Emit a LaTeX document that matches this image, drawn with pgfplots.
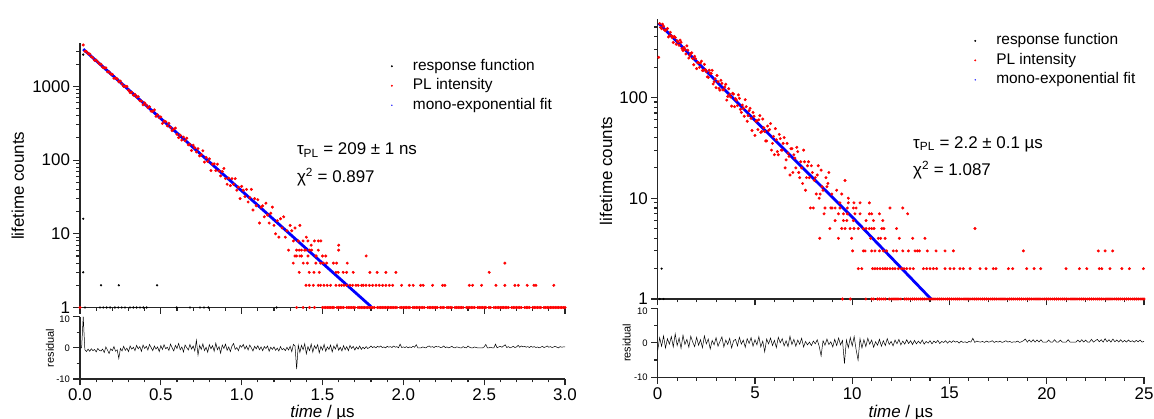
\documentclass[border=0pt]{standalone}
\usepackage{pgfplots}
\pgfplotsset{compat=1.18}
\usepackage{fontspec}
\setmainfont{Liberation Sans}
\definecolor{axcol}{gray}{0.15}
\pgfplotsset{
  base/.style={
    scale only axis,
    axis x line*=bottom, axis y line*=left,
    axis line style={line width=1.2bp, draw=axcol, -},
    tick style={line width=1.1bp, draw=axcol},
    tick align=outside,
    major tick length=6.5bp, minor tick length=3.5bp,
    /pgf/number format/assume math mode=true,
    clip=false,
    ticklabel style={font=\fontsize{17}{19}\selectfont},
  },
  resid/.style={
    ytick={-10,0}, yticklabels={-10,0}, minor ytick={-5,5},
    extra y ticks={10}, extra y tick labels={10},
    extra y tick style={yticklabel style={yshift=-2.5bp}},
    yticklabel style={font=\fontsize{9.5}{10}\selectfont},
    ylabel={residual},
    xlabel={\textit{time} / µs},
  },
  lgd/.style={
    legend cell align=left,
    legend style={draw=none, fill=none, inner sep=0pt, row sep=3bp,
      font=\fontsize{15.5}{17}\selectfont,
      nodes={inner xsep=1bp, inner ysep=1bp, text height=11bp, text depth=3.5bp}},
    legend image code/.code={\path[draw=none,fill=none] (0bp,0bp) (31bp,0bp); \draw[##1, mark size=0.8bp] plot coordinates {(11bp,0bp)};},
  },
  redpts/.style={only marks, mark=*, mark size=1.3bp, draw=red, fill=red, mark options={draw=red, fill=red}},
  blkpts/.style={only marks, mark=*, mark size=0.9bp, black, mark options={draw=black, fill=black}},
  fitln/.style={blue, line width=2.8bp, no marks},
  fitlgd/.style={legend image code/.code={\path[draw=none,fill=none] (0bp,0bp) (31bp,0bp); \fill[blue, draw=none] (11bp,0bp) circle (0.8bp);}},
}
\begin{document}
\begin{tikzpicture}
\path[use as bounding box] (0,0) rectangle (1154bp,419bp);

% ---------------- left main ----------------
\begin{axis}[base, lgd,
  at={(80bp,111.5bp)}, anchor=south west, width=485bp, height=264.5bp,
  xmin=0, xmax=3, ymode=log, ymin=1, ymax=3880,
  xtick={0,0.5,...,3}, minor x tick num=4, xticklabels={,,,,,,,},
  ytick={1,10,100,1000}, yticklabels={1,10,100,1000},
  minor ytick={2,3,4,5,6,7,8,9,20,30,40,50,60,70,80,90,200,300,400,500,600,700,800,900,2000,3000},
  ylabel={lifetime counts},
  ylabel style={font=\fontsize{17}{19}\selectfont, at={(axis description cs:-0.128,0.46)}, anchor=center},
  legend style={at={(axis description cs:0.620,0.944)}, anchor=north west},
]
\addplot[blkpts] coordinates {(0.02,2700)(0.02,16)(0.02,3)(0.13,2)(0.24,2)(0.477,2)
(0.031,1)(0.124,1)(0.144,1)(0.165,1)(0.186,1)(0.216,1)(0.237,1)(0.258,1)(0.278,1)(0.309,1)(0.33,1)(0.35,1)(0.371,1)(0.392,1)(0.412,1)(0.598,1)(0.68,1)(0.742,1)(0.767,1)(0.794,1)(1.216,1)};
\addlegendentry{response function}
\addplot[redpts] coordinates {(0.00,1)(0.02,3650)(0.03,2998)(0.04,2967)(0.05,2784)(0.06,2749)(0.07,2518)(0.08,2445)(0.09,2255)(0.10,2271)(0.11,2149)(0.12,2014)(0.13,2000)(0.14,1822)(0.15,1779)(0.16,1782)(0.17,1573)(0.18,1577)(0.19,1473)(0.20,1457)(0.21,1286)(0.22,1303)(0.23,1264)(0.24,1156)(0.25,1179)(0.26,1079)(0.27,1002)(0.28,1004)(0.29,1000)(0.30,885)(0.31,822)(0.32,834)(0.33,758)(0.34,776)(0.35,715)(0.36,728)(0.37,640)(0.38,632)(0.39,562)(0.40,597)(0.41,558)(0.42,514)(0.43,529)(0.44,460)(0.45,458)(0.46,480)(0.47,392)(0.48,412)(0.49,377)(0.50,385)(0.51,314)(0.52,338)(0.53,332)(0.54,291)(0.55,316)(0.56,277)(0.57,251)(0.58,263)(0.59,272)(0.60,224)(0.61,202)(0.62,217)(0.63,187)(0.64,205)(0.65,183)(0.66,198)(0.67,161)(0.68,163)(0.69,135)(0.70,159)(0.71,147)(0.72,129)(0.73,143)(0.74,114)(0.75,118)(0.76,134)(0.77,94)(0.78,109)(0.79,96)(0.80,104)(0.81,72)(0.82,88)(0.83,89)(0.84,72)(0.85,88)(0.86,71)(0.87,61)(0.88,70)(0.89,77)(0.90,56)(0.91,47)(0.92,57)(0.93,45)(0.94,56)(0.95,47)(0.96,56)(0.97,39)(0.98,43)(0.99,30)(1.00,44)(1.01,39)(1.02,32)(1.03,40)(1.04,27)(1.05,31)(1.06,40)(1.07,21)(1.08,30)(1.09,24)(1.10,29)(1.11,14)(1.12,23)(1.13,24)(1.14,17)(1.15,26)(1.16,18)(1.17,14)(1.18,19)(1.19,23)(1.20,13)(1.21,10)(1.22,15)(1.23,9)(1.24,16)(1.25,12)(1.26,17)(1.27,9)(1.28,11)(1.29,6)(1.30,13)(1.31,11)(1.32,8)(1.33,12)(1.34,6)(1.35,8)(1.36,13)(1.37,5)(1.38,8)(1.39,6)(1.40,9)(1.42,6)(1.43,7)(1.45,8)(1.46,5)(1.49,8)
(1.41,8)(1.474,8)(1.356,6)(1.37,6)(1.398,6)(1.433,6)(1.474,6)(1.60,6)(1.60,7)
(1.33,5)(1.34,5)(1.36,5)(1.41,5)(1.46,5)(1.50,5)(1.52,5)(1.77,5)
(1.319,4)(1.381,4)(1.406,4)(1.459,4)(1.488,4)(1.505,4)(1.526,4)(1.567,4)(1.587,4)(1.653,4)(2.628,4)
(1.356,3)(1.418,3)(1.447,3)(1.48,3)(1.583,3)(1.597,3)(1.628,3)(1.649,3)(1.69,3)(1.793,3)(1.838,3)(1.892,3)(1.954,3)(2.531,3)
(1.398,2)(1.418,2)(1.443,2)(1.474,2)(1.488,2)(1.509,2)(1.529,2)(1.55,2)(1.583,2)(1.604,2)(1.618,2)(1.633,2)(1.649,2)(1.67,2)(1.686,2)(1.707,2)(1.721,2)(1.742,2)(1.752,2)(1.769,2)(1.79,2)(1.81,2)(1.831,2)(1.851,2)(1.872,2)(1.892,2)(1.913,2)(1.934,2)(1.989,2)(2.037,2)(2.061,2)(2.107,2)(2.123,2)(2.181,2)(2.243,2)(2.257,2)(2.408,2)(2.428,2)(2.484,2)(2.573,2)(2.628,2)(2.69,2)(2.711,2)(2.766,2)(2.808,2)(2.82,2)(2.931,2)
(1.34,1)(1.38,1)(1.42,1)(1.45,1)(1.50,1)(1.51,1)(1.52,1)(1.53,1)(1.54,1)(1.55,1)(1.56,1)(1.57,1)(1.59,1)(1.60,1)(1.61,1)(1.62,1)(1.63,1)(1.65,1)(1.66,1)(1.67,1)(1.68,1)(1.69,1)(1.70,1)(1.72,1)(1.73,1)(1.74,1)(1.75,1)(1.76,1)(1.77,1)(1.78,1)(1.79,1)(1.80,1)(1.81,1)(1.82,1)(1.84,1)(1.85,1)(1.86,1)(1.87,1)(1.88,1)(1.89,1)(1.90,1)(1.91,1)(1.92,1)(1.93,1)(1.94,1)(1.95,1)(1.96,1)(1.98,1)(1.99,1)(2.00,1)(2.01,1)(2.02,1)(2.03,1)(2.04,1)(2.06,1)(2.07,1)(2.08,1)(2.09,1)(2.10,1)(2.11,1)(2.12,1)(2.13,1)(2.15,1)(2.16,1)(2.17,1)(2.18,1)(2.19,1)(2.20,1)(2.21,1)(2.23,1)(2.24,1)(2.25,1)(2.27,1)(2.28,1)(2.29,1)(2.30,1)(2.32,1)(2.33,1)(2.34,1)(2.35,1)(2.36,1)(2.37,1)(2.39,1)(2.40,1)(2.41,1)(2.42,1)(2.43,1)(2.44,1)(2.46,1)(2.47,1)(2.48,1)(2.49,1)(2.50,1)(2.51,1)(2.53,1)(2.54,1)(2.56,1)(2.57,1)(2.58,1)(2.59,1)(2.60,1)(2.61,1)(2.62,1)(2.63,1)(2.64,1)(2.65,1)(2.67,1)(2.68,1)(2.69,1)(2.70,1)(2.71,1)(2.72,1)(2.73,1)(2.75,1)(2.76,1)(2.77,1)(2.78,1)(2.80,1)(2.81,1)(2.82,1)(2.83,1)(2.84,1)(2.85,1)(2.87,1)(2.88,1)(2.89,1)(2.90,1)(2.91,1)(2.92,1)(2.93,1)(2.94,1)(2.95,1)(2.96,1)(2.97,1)(2.98,1)(2.99,1)(3.00,1)};
\addlegendentry{PL intensity}
\addplot[fitln, fitlgd] coordinates {(0.02,3200)(0.5,366)(1.0,38.3)(1.5,3.99)(1.80,1.03)};
\addlegendentry{mono-exponential fit}
\node[anchor=west, font=\fontsize{17}{19}\selectfont, inner sep=0pt] at (axis description cs:0.447,0.595) {τ\textsubscript{PL} = 209 ± 1 ns};
\node[anchor=west, font=\fontsize{17}{19}\selectfont, inner sep=0pt] at (axis description cs:0.447,0.493) {χ\textsuperscript{2} = 0.897};
\end{axis}

% ---------------- left residual ----------------
\begin{axis}[base, resid,
  at={(80bp,40bp)}, anchor=south west, width=485bp, height=62.3bp,
  xmin=0, xmax=3, ymin=-10, ymax=10,
  xtick={0,0.5,...,3}, minor x tick num=4,
  xticklabels={0.0,0.5,1.0,1.5,2.0,2.5,3.0},
  ylabel style={font=\fontsize{11}{12}\selectfont, at={(axis description cs:-0.062,0.5)}, anchor=center},
  xlabel style={font=\fontsize{17}{19}\selectfont, at={(axis description cs:0.5,-0.546)}, anchor=center},
]
\addplot[black, line width=0.5bp, no marks] coordinates {(0.00,0)(0.01,0)(0.02,10)(0.03,-0.6)(0.04,-1.2)(0.05,-0.4)(0.06,-1.1)(0.07,-0.3)(0.08,-0.9)(0.09,-0.5)(0.10,-1.3)(0.11,-0.2)(0.12,-0.8)(0.13,-1.0)(0.14,-0.4)(0.15,-1.5)(0.16,0.3)(0.17,-0.7)(0.18,-1.8)(0.19,-0.3)(0.20,-0.9)(0.21,0.4)(0.22,-1.1)(0.23,-0.6)(0.24,-3.4)(0.25,-0.2)(0.26,-1.0)(0.27,0.5)(0.28,-0.8)(0.29,-0.1)(0.30,-1.2)(0.31,0.6)(0.32,-0.4)(0.33,0.2)(0.34,-0.9)(0.35,0.8)(0.36,-0.3)(0.37,0.4)(0.38,-1.1)(0.39,0.9)(0.40,-0.2)(0.41,0.5)(0.42,-0.7)(0.43,1.1)(0.44,0.1)(0.45,-0.9)(0.46,0.6)(0.47,-0.4)(0.48,0.3)(0.49,-1.2)(0.50,0.7)(0.51,-0.5)(0.52,1.0)(0.53,-0.3)(0.54,0.2)(0.55,-0.8)(0.56,1.2)(0.57,0.0)(0.58,-1.0)(0.59,0.8)(0.60,-0.2)(0.61,1.4)(0.62,-0.6)(0.63,0.3)(0.64,-1.3)(0.65,0.9)(0.66,0.1)(0.67,-0.7)(0.68,1.1)(0.69,-0.4)(0.70,0.6)(0.71,-1.0)(0.72,2.4)(0.73,-2.3)(0.74,0.8)(0.75,-0.5)(0.76,1.3)(0.77,-0.9)(0.78,0.2)(0.79,-1.4)(0.80,1.0)(0.81,-0.3)(0.82,0.7)(0.83,-1.1)(0.84,1.5)(0.85,-0.6)(0.86,0.4)(0.87,-1.7)(0.88,0.9)(0.89,-0.2)(0.90,1.2)(0.91,-0.8)(0.92,0.3)(0.93,-1.2)(0.94,0.6)(0.95,1.4)(0.96,-0.5)(0.97,0.1)(0.98,-0.9)(0.99,0.8)(1.00,0.2)(1.01,1.1)(1.02,-0.4)(1.03,0.6)(1.04,-0.7)(1.05,0.9)(1.06,0.0)(1.07,-1.0)(1.08,0.5)(1.09,-0.3)(1.10,0.7)(1.11,-0.6)(1.12,0.3)(1.13,-0.9)(1.14,0.4)(1.15,-0.2)(1.16,0.6)(1.17,-1.1)(1.18,0.2)(1.19,-0.5)(1.20,0.3)(1.21,-0.8)(1.22,-0.1)(1.23,-1.0)(1.24,0.4)(1.25,-0.6)(1.26,-0.2)(1.27,-0.9)(1.28,0.2)(1.29,-0.7)(1.30,0.5)(1.31,-1.2)(1.32,1.1)(1.33,0.6)(1.34,-6.8)(1.35,0.9)(1.36,-1.5)(1.37,0.8)(1.38,-0.6)(1.39,1.3)(1.40,-1.9)(1.41,0.4)(1.42,-0.9)(1.43,1.2)(1.44,-1.4)(1.45,0.7)(1.46,-0.3)(1.47,1.0)(1.48,-1.6)(1.49,0.5)(1.50,-0.7)(1.51,1.1)(1.52,-1.1)(1.53,0.3)(1.54,-0.5)(1.55,0.9)(1.56,-1.3)(1.57,0.6)(1.58,-0.4)(1.59,1.2)(1.60,-0.8)(1.61,0.2)(1.62,-1.0)(1.63,0.7)(1.64,-0.6)(1.65,0.4)(1.66,-0.9)(1.67,0.8)(1.68,-0.2)(1.69,0.5)(1.70,-0.7)(1.71,0.3)(1.72,-0.4)(1.73,0.6)(1.74,-0.5)(1.75,0.2)(1.76,-0.3)(1.77,0.4)(1.78,-0.2)(1.79,0.1)(1.80,0.6)(1.81,0.1)(1.82,0.4)(1.83,0.0)(1.84,0.5)(1.85,0.2)(1.86,0.6)(1.87,0.1)(1.88,0.3)(1.89,0.0)(1.90,0.5)(1.91,0.2)(1.92,0.4)(1.93,0.1)(1.94,0.6)(1.95,0.2)(1.96,0.4)(1.97,0.0)(1.98,1.2)(1.99,0.1)(2.00,0.3)(2.01,0.1)(2.02,0.4)(2.03,0.0)(2.04,0.3)(2.05,0.1)(2.06,0.5)(2.07,0.2)(2.08,1.0)(2.09,0.0)(2.10,0.0)(2.11,0.0)(2.12,0.3)(2.13,0.1)(2.14,0.0)(2.15,0.4)(2.16,0.6)(2.17,0.2)(2.18,0.4)(2.19,0.1)(2.20,0.5)(2.21,0.3)(2.22,0.4)(2.23,0.1)(2.24,0.2)(2.25,0.6)(2.26,0.1)(2.27,0.3)(2.28,0.0)(2.29,0.2)(2.30,0.5)(2.31,0.1)(2.32,0.0)(2.33,0.3)(2.34,0.2)(2.35,0.0)(2.36,0.0)(2.37,0.4)(2.38,0.1)(2.39,0.0)(2.40,0.6)(2.41,0.2)(2.42,0.0)(2.43,0.0)(2.44,0.3)(2.45,0.1)(2.46,0.0)(2.47,0.0)(2.48,0.0)(2.49,0.0)(2.50,0.3)(2.51,1.1)(2.52,0.0)(2.53,0.0)(2.54,0.2)(2.55,0.0)(2.56,0.0)(2.57,1.2)(2.58,0.0)(2.59,0.3)(2.60,0.5)(2.61,0.2)(2.62,0.6)(2.63,1.0)(2.64,0.1)(2.65,0.4)(2.66,0.0)(2.67,0.2)(2.68,0.5)(2.69,0.1)(2.70,0.3)(2.71,0.8)(2.72,0.2)(2.73,0.6)(2.74,0.3)(2.75,0.5)(2.76,0.2)(2.77,0.4)(2.78,0.1)(2.79,0.5)(2.80,0.2)(2.81,0.4)(2.82,0.1)(2.83,0.3)(2.84,0.0)(2.85,0.2)(2.86,0.5)(2.87,0.1)(2.88,0.3)(2.89,0.6)(2.90,0.2)(2.91,0.4)(2.92,0.1)(2.93,0.3)(2.94,0.5)(2.95,0.2)(2.96,0.0)(2.97,0.4)(2.98,0.2)(2.99,0.3)(3.00,0.3)};
\end{axis}

% ---------------- right main ----------------
\begin{axis}[base, lgd,
  at={(657.7bp,120bp)}, anchor=south west, width=486.3bp, height=279.7bp,
  xmin=0, xmax=25, ymode=log, ymin=1, ymax=596,
  xtick={0,5,...,25}, minor x tick num=4, xticklabels={,,,,,,,},
  ytick={1,10,100}, yticklabels={1,10,100},
  minor ytick={2,3,4,5,6,7,8,9,20,30,40,50,60,70,80,90,200,300,400,500},
  ylabel={lifetime counts},
  ylabel style={font=\fontsize{17}{19}\selectfont, at={(axis description cs:-0.106,0.458)}, anchor=center},
  legend style={at={(axis description cs:0.630,0.953)}, anchor=north west},
]
\addplot[blkpts] coordinates {(0.2,2)(0.1,1)(0.3,1)};
\addlegendentry{response function}
\addplot[redpts] coordinates {(0.05,250)(0.1,541)(0.2,480)(0.3,508)(0.4,461)(0.5,483)(0.6,409)(0.7,410)(0.8,351)(0.9,393)(1.0,365)(1.1,329)(1.2,352)(1.3,292)(1.4,298)(1.5,325)(1.6,246)(1.7,272)(1.8,243)(1.9,256)(2.0,193)(2.1,221)(2.2,220)(2.3,185)(2.4,213)(2.5,180)(2.6,158)(2.7,174)(2.8,186)(2.9,143)(3.0,125)(3.1,143)(3.2,118)(3.3,138)(3.4,119)(3.5,135)(3.6,102)(3.7,107)(3.8,82)(3.9,108)(4.0,97)(4.1,83)(4.2,98)(4.3,71)(4.4,78)(4.5,95)(4.6,58)(4.7,74)(4.8,62)(4.9,71)(5.0,42)(5.1,59)(5.2,60)(5.3,45)(5.4,61)(5.5,46)(5.6,37)(5.7,47)(5.8,55)(5.9,35)(6.0,27)(6.1,38)(6.2,27)(6.3,39)(6.4,30)(6.5,40)(6.6,24)(6.7,28)(6.8,17)(6.9,31)(7.0,27)(7.1,20)(7.2,29)(7.3,16)(7.4,20)(7.5,30)(7.6,12)(7.7,21)(7.8,16)(7.9,21)(8.0,8)(8.1,16)(8.2,17)(8.3,10)(8.33,4)(8.4,19)(8.5,12)(8.6,8)(8.7,13)(8.8,18)(8.9,8)
(0.15,496)(0.25,533)(0.35,466)(0.45,471)(0.55,398)(0.65,443)(0.75,393)(0.85,402)(0.95,337)(1.05,355)(1.15,370)(1.25,305)(1.35,313)(1.45,270)(1.55,294)(1.65,260)(1.75,277)(1.85,211)(1.95,242)(2.05,222)(2.15,199)(2.25,229)(2.35,186)(2.45,189)(2.55,160)(2.65,186)(2.75,173)(2.85,136)(2.95,153)(3.05,165)(3.15,123)(3.25,148)(3.35,119)(3.45,127)(3.55,94)(3.65,122)(3.75,101)(3.85,110)(3.95,81)(4.05,94)(4.15,106)(4.25,76)(4.35,84)(4.45,65)(4.55,81)(4.65,66)(4.75,78)(4.85,47)(4.95,65)(5.05,58)(5.15,48)(5.25,66)(5.35,46)(5.45,50)(5.55,37)(5.65,52)(5.75,48)(5.85,30)(5.95,41)(6.05,49)(6.15,29)(6.25,43)(6.35,30)(6.45,35)(6.55,20)(6.65,35)(6.75,26)(6.85,31)(6.95,18)(7.05,25)(7.15,32)(7.25,18)(7.35,23)(7.45,14)(7.55,23)(7.65,16)(7.75,23)(7.85,8)(7.95,18)(8.05,15)(8.15,11)(8.25,21)(8.35,11)(8.45,13)(8.55,7)(8.65,16)(8.75,14)(8.85,5)(8.95,11)
(9.63,15)(9.2,12)(9.46,11)(9.8,10)
(9.37,9)(9.8,9)(10.09,9)(10.4,9)(10.88,9)
(8.96,8)(9.12,8)(9.37,8)(9.75,8)(10.06,8)(10.2,8)(11.94,8)(12.6,8)
(9.29,7)(9.55,7)(9.75,7)(10.14,7)(10.4,7)(10.88,7)(11.0,7)(11.4,7)(12.85,7)
(9.12,6)(9.55,6)(9.72,6)(10.06,6)(10.71,6)(11.09,6)(11.57,6)
(9.46,5)(9.63,5)(9.89,5)(10.09,5)(10.31,5)(10.57,5)(10.71,5)(10.88,5)(11.0,5)(11.12,5)(11.52,5)(11.63,5)(12.28,5)(16.31,5)
(9.29,4)(9.97,4)(10.95,4)(11.34,4)(11.46,4)(11.69,4)(12.42,4)(13.11,4)(13.74,4)
(10.02,3)(10.57,3)(10.66,3)(11.0,3)(11.17,3)(11.4,3)(11.6,3)(11.77,3)(12.11,3)(12.28,3)(12.6,3)(12.89,3)(13.23,3)(13.35,3)(13.45,3)(13.86,3)(14.31,3)(14.77,3)(15.2,3)(18.8,3)(22.65,3)(23.0,3)(23.39,3)
(10.31,2)(10.49,2)(11.05,2)(11.17,2)(11.29,2)(11.43,2)(11.57,2)(11.69,2)(11.8,2)(11.94,2)(12.08,2)(12.2,2)(12.37,2)(12.54,2)(12.66,2)(12.8,2)(12.97,2)(13.14,2)(13.66,2)(13.83,2)(14.0,2)(14.17,2)(14.34,2)(14.77,2)(15.03,2)(15.23,2)(15.54,2)(15.71,2)(16.06,2)(16.57,2)(16.88,2)(17.25,2)(17.39,2)(18.03,2)(18.25,2)(18.97,2)(19.35,2)(19.69,2)(20.99,2)(21.68,2)(22.06,2)(22.7,2)(22.83,2)(23.25,2)(23.86,2)(24.25,2)(24.97,2)
(9.5,1)(9.9,1)(10.7,1)(11.0,1)(11.1,1)(11.3,1)(11.4,1)(11.5,1)(11.6,1)(11.7,1)(11.9,1)(12.0,1)(12.1,1)(12.2,1)(12.3,1)(12.4,1)(12.5,1)(12.7,1)(12.8,1)(12.9,1)(13.0,1)(13.1,1)(13.2,1)(13.3,1)(13.4,1)(13.5,1)(13.6,1)(13.7,1)(13.8,1)(13.9,1)(14.0,1)(14.1,1)(14.2,1)(14.3,1)(14.4,1)(14.5,1)(14.6,1)(14.7,1)(14.8,1)(14.9,1)(15.0,1)(15.1,1)(15.2,1)(15.3,1)(15.4,1)(15.5,1)(15.6,1)(15.7,1)(15.8,1)(15.9,1)(16.0,1)(16.1,1)(16.2,1)(16.3,1)(16.4,1)(16.5,1)(16.6,1)(16.7,1)(16.8,1)(16.9,1)(17.0,1)(17.1,1)(17.2,1)(17.3,1)(17.4,1)(17.5,1)(17.6,1)(17.7,1)(17.8,1)(17.9,1)(18.0,1)(18.1,1)(18.2,1)(18.3,1)(18.4,1)(18.5,1)(18.6,1)(18.7,1)(18.8,1)(18.9,1)(19.0,1)(19.1,1)(19.2,1)(19.3,1)(19.4,1)(19.5,1)(19.6,1)(19.7,1)(19.8,1)(19.9,1)(20.0,1)(20.1,1)(20.2,1)(20.3,1)(20.4,1)(20.5,1)(20.6,1)(20.7,1)(20.8,1)(20.9,1)(21.0,1)(21.1,1)(21.2,1)(21.3,1)(21.4,1)(21.5,1)(21.6,1)(21.7,1)(21.8,1)(21.9,1)(22.0,1)(22.1,1)(22.2,1)(22.3,1)(22.4,1)(22.5,1)(22.6,1)(22.7,1)(22.8,1)(22.9,1)(23.0,1)(23.1,1)(23.2,1)(23.3,1)(23.4,1)(23.5,1)(23.6,1)(23.7,1)(23.8,1)(23.9,1)(24.0,1)(24.1,1)(24.2,1)(24.3,1)(24.4,1)(24.5,1)(24.6,1)(24.7,1)(24.8,1)(24.9,1)(25.0,1)};
\addlegendentry{PL intensity}
\addplot[fitln, fitlgd] coordinates {(0.05,545)(5,59.3)(10,6.5)(14.05,1)};
\addlegendentry{mono-exponential fit}
\node[anchor=west, font=\fontsize{17}{19}\selectfont, inner sep=0pt] at (axis description cs:0.525,0.554) {τ\textsubscript{PL} = 2.2 ± 0.1 µs};
\node[anchor=west, font=\fontsize{17}{19}\selectfont, inner sep=0pt] at (axis description cs:0.525,0.461) {χ\textsuperscript{2} = 1.087};
\end{axis}

% ---------------- right residual ----------------
\begin{axis}[base, resid,
  at={(657.7bp,41.7bp)}, anchor=south west, width=486.3bp, height=69bp,
  xmin=0, xmax=25, ymin=-10, ymax=10,
  xtick={0,5,...,25}, minor x tick num=4,
  ylabel style={font=\fontsize{11}{12}\selectfont, at={(axis description cs:-0.064,0.5)}, anchor=center},
  xlabel style={font=\fontsize{17}{19}\selectfont, at={(axis description cs:0.5,-0.517)}, anchor=center},
]
\addplot[black, line width=0.5bp, no marks] coordinates {(0.0,-2.2)(0.1,1.5)(0.2,-1.0)(0.3,2.0)(0.4,-1.5)(0.5,1.2)(0.6,-0.4)(0.7,1.8)(0.8,-1.2)(0.9,2.6)(1.0,-0.8)(1.1,1.4)(1.2,-1.6)(1.3,2.2)(1.4,-0.5)(1.5,1.0)(1.6,-1.3)(1.7,1.9)(1.8,0.2)(1.9,-1.1)(2.0,1.6)(2.1,-0.7)(2.2,0.9)(2.3,-1.4)(2.4,2.0)(2.5,-0.3)(2.6,1.1)(2.7,-1.8)(2.8,0.7)(2.9,-0.6)(3.0,1.5)(3.1,-1.0)(3.2,0.4)(3.3,1.7)(3.4,-1.2)(3.5,0.8)(3.6,-0.5)(3.7,1.3)(3.8,-1.5)(3.9,0.6)(4.0,1.0)(4.1,-0.9)(4.2,1.6)(4.3,-0.4)(4.4,0.8)(4.5,-1.3)(4.6,1.2)(4.7,-0.2)(4.8,1.5)(4.9,-1.0)(5.0,0.9)(5.1,-0.6)(5.2,1.8)(5.3,-1.2)(5.4,0.5)(5.5,-2.6)(5.6,1.1)(5.7,-0.3)(5.8,1.4)(5.9,-0.8)(6.0,0.7)(6.1,-1.4)(6.2,1.6)(6.3,0.0)(6.4,1.2)(6.5,-0.9)(6.6,0.6)(6.7,-1.1)(6.8,1.9)(6.9,-0.5)(7.0,1.0)(7.1,-1.0)(7.2,0.8)(7.3,-0.4)(7.4,1.3)(7.5,-1.2)(7.6,0.4)(7.7,-0.6)(7.8,0.2)(7.9,-0.8)(8.0,0.5)(8.1,-0.3)(8.2,0.9)(8.3,-1.0)(8.4,-3.8)(8.5,0.6)(8.6,-0.7)(8.7,1.1)(8.8,-0.5)(8.9,0.3)(9.0,-1.2)(9.1,1.0)(9.2,-0.8)(9.3,1.4)(9.4,-0.6)(9.5,0.7)(9.6,-6.0)(9.7,0.8)(9.8,-1.4)(9.9,1.5)(10.0,-0.9)(10.1,1.8)(10.2,-2.0)(10.3,-5.0)(10.4,1.2)(10.5,-1.5)(10.6,0.9)(10.7,-1.1)(10.8,1.3)(10.9,-0.4)(11.0,0.8)(11.1,-1.3)(11.2,0.3)(11.3,-0.7)(11.4,1.0)(11.5,-1.0)(11.6,0.6)(11.7,-0.8)(11.8,1.2)(11.9,-0.5)(12.0,0.4)(12.1,-0.9)(12.2,0.8)(12.3,-0.3)(12.4,1.0)(12.5,-0.6)(12.6,0.5)(12.7,-0.4)(12.8,0.9)(12.9,-0.2)(13.0,0.6)(13.1,-0.5)(13.2,0.7)(13.3,-0.3)(13.4,0.5)(13.5,-0.2)(13.6,0.8)(13.7,-0.4)(13.8,0.4)(13.9,-0.1)(14.0,0.6)(14.1,-0.3)(14.2,0.5)(14.3,0.0)(14.4,0.7)(14.5,-0.2)(14.6,0.4)(14.7,0.1)(14.8,0.6)(14.9,-0.1)(15.0,0.5)(15.1,0.1)(15.2,0.6)(15.3,0.2)(15.4,0.4)(15.5,-0.1)(15.6,0.5)(15.7,0.1)(15.8,0.3)(15.9,0.0)(16.0,0.4)(16.1,0.2)(16.2,1.3)(16.3,0.1)(16.4,0.5)(16.5,0.3)(16.6,0.2)(16.7,0.4)(16.8,0.1)(16.9,0.5)(17.0,0.2)(17.1,0.3)(17.2,0.6)(17.3,0.1)(17.4,0.4)(17.5,0.2)(17.6,0.5)(17.7,0.1)(17.8,0.3)(17.9,0.6)(18.0,0.2)(18.1,0.4)(18.2,0.1)(18.3,0.3)(18.4,0.2)(18.5,0.5)(18.6,0.1)(18.7,0.3)(18.8,0.6)(18.9,1.1)(19.0,0.2)(19.1,0.8)(19.2,0.2)(19.3,0.9)(19.4,0.2)(19.5,0.8)(19.6,0.2)(19.7,0.9)(19.8,0.2)(19.9,0.2)(20.0,0.2)(20.1,0.8)(20.2,0.2)(20.3,0.2)(20.4,0.9)(20.5,0.2)(20.6,0.2)(20.7,0.8)(20.8,0.2)(20.9,0.2)(21.0,0.2)(21.1,0.9)(21.2,0.2)(21.3,0.2)(21.4,0.2)(21.5,0.2)(21.6,0.8)(21.7,0.2)(21.8,0.9)(21.9,0.2)(22.0,0.8)(22.1,0.2)(22.2,0.2)(22.3,1.0)(22.4,0.2)(22.5,0.6)(22.6,1.0)(22.7,0.3)(22.8,0.9)(22.9,0.2)(23.0,1.2)(23.1,0.3)(23.2,0.9)(23.3,0.2)(23.4,1.1)(23.5,0.3)(23.6,0.8)(23.7,0.2)(23.8,0.9)(23.9,0.2)(24.0,0.7)(24.1,0.2)(24.2,0.8)(24.3,0.3)(24.4,0.6)(24.5,0.2)(24.6,0.7)(24.7,0.3)(24.8,0.8)(24.9,0.2)(25.0,0.4)};
\end{axis}
\end{tikzpicture}
\end{document}
